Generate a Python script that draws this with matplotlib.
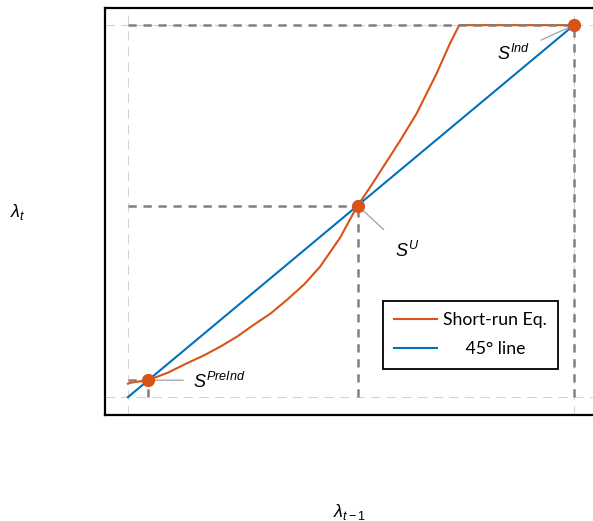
import matplotlib
matplotlib.use("Agg")
import matplotlib.pyplot as plt
import numpy as np

plt.rcParams["mathtext.fontset"] = "custom"
plt.rcParams["mathtext.rm"] = "Liberation Sans"
plt.rcParams["mathtext.it"] = "Liberation Sans:italic"

# short-run equilibrium map lambda_{t-1} -> lambda_t
lam_prev = [0.0, 0.0045, 0.0455, 0.09, 0.1316, 0.17, 0.2063, 0.245, 0.2809, 0.32,
            0.3558, 0.395, 0.4305, 0.4753, 0.5135, 0.545, 0.5724, 0.61, 0.6473,
            0.6921, 0.722, 0.7428, 1.0]
lam_next = [0.036, 0.0384, 0.0457, 0.066, 0.0906, 0.112, 0.1352, 0.163, 0.1935,
            0.225, 0.2608, 0.303, 0.3503, 0.428, 0.5121, 0.568, 0.6191, 0.689,
            0.7626, 0.8702, 0.9508, 1.0, 1.0]

# 45 degree line
diag = [0.0, 1.0]

# steady states
ss_names = ["PreInd", "U", "Ind"]
ss_lam = [0.0455, 0.515, 1.0]

ORANGE = "#D95319"
BLUE = "#0072BD"
GUIDE = "#808080"

fig = plt.figure(figsize=(5.93, 5.21), dpi=100)
ax = fig.add_axes([0.177, 0.2035, 0.8297, 0.7811])
ax.set_xlim(-0.0516, 1.0516)
ax.set_ylim(-0.048, 1.046)

ax.set_xticks([0, 1])
ax.set_yticks([0, 1])
ax.set_xticklabels([])
ax.set_yticklabels([])
ax.tick_params(length=0)
ax.grid(True, color="#d2d2d2", lw=0.75, ls=(0, (9, 6)))
ax.set_axisbelow(True)
for sp in ax.spines.values():
    sp.set_linewidth(1.6)
    sp.set_color("black")

ax.plot(lam_prev, lam_next, color=ORANGE, lw=1.5, zorder=3, label="Short-run Eq.")
ax.plot(diag, diag, color=BLUE, lw=1.5, zorder=3, label="     45° line")

# dashed guides from each steady state to the axes
guide_ls = (0, (3.3, 2.7))
for s in ss_lam:
    ax.plot([0, s], [s, s], color=GUIDE, lw=1.8, ls=guide_ls, zorder=4)
    ax.plot([s, s], [0, s], color=GUIDE, lw=1.8, ls=guide_ls, zorder=4)

ax.plot(ss_lam, ss_lam, "o", color=ORANGE, ms=8.5, zorder=5)

# leader line end and label offsets (pixels)
leader_off = [(35, 0), (26, -24), (-33, -15)]
label_off = [(45, -8), (37, -51), (-77, -35)]
for name, s, lo, to in zip(ss_names, ss_lam, leader_off, label_off):
    ax.annotate("", xy=(s, s), xytext=lo, textcoords="offset pixels",
                arrowprops=dict(arrowstyle="-", color="#a0a0a0", lw=0.9,
                                shrinkA=0, shrinkB=0), zorder=4)
    ax.annotate(rf"$S^{{{name}}}$", xy=(s, s), xytext=to,
                textcoords="offset pixels", ha="left", va="baseline",
                fontsize=13)

leg = ax.legend(loc="upper left", bbox_to_anchor=(0.565, 0.28),
                borderaxespad=0, fancybox=False, edgecolor="black",
                framealpha=1, handlelength=2.4, handletextpad=0.34,
                borderpad=0.65, labelspacing=0.72,
                prop={"family": "Lato", "size": 12.7})
leg.get_frame().set_linewidth(1.3)

fig.text(18 / 593, 1 - 212 / 521, r"$\lambda_t$", ha="center", va="center",
         fontsize=13)
fig.text(350 / 593, 1 - 512 / 521, r"$\lambda_{t-1}$", ha="center",
         va="center", fontsize=13)

fig.savefig("out.png", dpi=100)
